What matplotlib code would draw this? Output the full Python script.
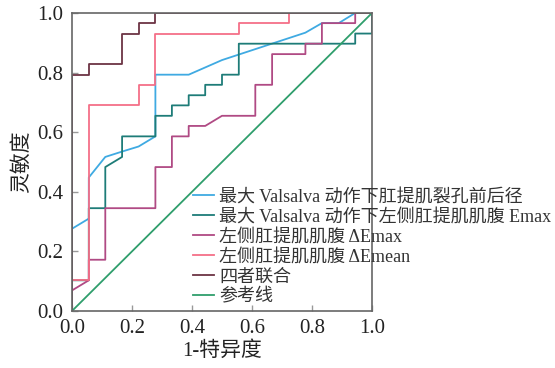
import matplotlib
matplotlib.use("Agg")
import matplotlib.pyplot as plt

plt.rcParams['font.family'] = ['Liberation Serif', 'Noto Sans CJK SC']
plt.rcParams['axes.unicode_minus'] = False

labels = [
    "最大 Valsalva 动作下肛提肌裂孔前后径",
    "最大 Valsalva 动作下左侧肛提肌肌腹 Emax",
    "左侧肛提肌肌腹 ΔEmax",
    "左侧肛提肌肌腹 ΔEmean",
    "四者联合",
    "参考线",
]
colors = ["#3faae2", "#1e7c78", "#b04a84", "#f46f88", "#6c3444", "#2f9e6c"]

# 1-特异度 / 灵敏度
fpr_hiatus = [0, 0, 0.056, 0.056, 0.111, 0.167, 0.222, 0.278, 0.278, 0.389, 0.5, 0.778, 0.833, 0.889, 0.944, 1]
tpr_hiatus = [0, 0.276, 0.31, 0.448, 0.517, 0.535, 0.552, 0.586, 0.793, 0.793, 0.842, 0.934, 0.966, 0.966, 1, 1]

fpr_emax = [0, 0, 0.056, 0.056, 0.111, 0.111, 0.167, 0.167, 0.278, 0.278, 0.333, 0.333, 0.389, 0.389,
            0.444, 0.444, 0.5, 0.5, 0.556, 0.556, 0.944, 0.944, 1, 1]
tpr_emax = [0, 0.103, 0.103, 0.345, 0.345, 0.483, 0.517, 0.586, 0.586, 0.655, 0.655, 0.69, 0.69, 0.724,
            0.724, 0.759, 0.759, 0.793, 0.793, 0.897, 0.897, 0.931, 0.931, 1]

fpr_demax = [0, 0.056, 0.056, 0.111, 0.111, 0.278, 0.278, 0.333, 0.333, 0.389, 0.389, 0.444, 0.5,
             0.611, 0.611, 0.667, 0.667, 0.778, 0.778, 0.833, 0.833, 0.944, 0.944, 1]
tpr_demax = [0.069, 0.103, 0.172, 0.172, 0.345, 0.345, 0.483, 0.483, 0.586, 0.586, 0.621, 0.621, 0.655,
             0.655, 0.759, 0.759, 0.862, 0.862, 0.897, 0.897, 0.966, 0.966, 1, 1]

fpr_demean = [0, 0, 0.056, 0.056, 0.222, 0.222, 0.278, 0.278, 0.556, 0.556, 0.722, 0.722, 1]
tpr_demean = [0, 0.103, 0.103, 0.69, 0.69, 0.759, 0.759, 0.931, 0.931, 0.966, 0.966, 1, 1]

fpr_combo = [0, 0, 0.056, 0.056, 0.167, 0.167, 0.222, 0.222, 0.278, 0.278, 1]
tpr_combo = [0, 0.793, 0.793, 0.828, 0.828, 0.931, 0.931, 0.966, 0.966, 1, 1]

ref_x = [0, 1]
ref_y = [0, 1]

series = [
    (fpr_hiatus, tpr_hiatus),
    (fpr_emax, tpr_emax),
    (fpr_demax, tpr_demax),
    (fpr_demean, tpr_demean),
    (fpr_combo, tpr_combo),
    (ref_x, ref_y),
]

fig = plt.figure(figsize=(5.55, 3.68), dpi=100)
ax = fig.add_axes([0.1297, 0.1549, 0.5406, 0.8098])

for (x, y), lab, c in zip(series, labels, colors):
    ax.plot(x, y, color=c, lw=1.3, label=lab)

ax.set_xlim(0, 1)
ax.set_ylim(0, 1)
ax.set_xticks([0, 0.2, 0.4, 0.6, 0.8, 1.0])
ax.set_yticks([0, 0.2, 0.4, 0.6, 0.8, 1.0])
ax.tick_params(direction="in", length=4, width=1, color="#999999",
               labelsize=15, pad=6, labelcolor="#222222")
for s in ax.spines.values():
    s.set_color("#666666")
    s.set_linewidth(1.2)

ax.set_xlabel("1-特异度", fontsize=15, color="#222222", labelpad=2)
ax.set_ylabel("灵敏度", fontsize=15, color="#222222", labelpad=4)

leg = ax.legend(loc="upper left", bbox_to_anchor=(0.403, 0.41), frameon=False,
                fontsize=13, handlelength=1.15, handletextpad=0.3,
                labelspacing=0.16, borderpad=0, borderaxespad=0)
for t in leg.get_texts():
    t.set_color("#333333")

fig.savefig("out.png", dpi=100)
